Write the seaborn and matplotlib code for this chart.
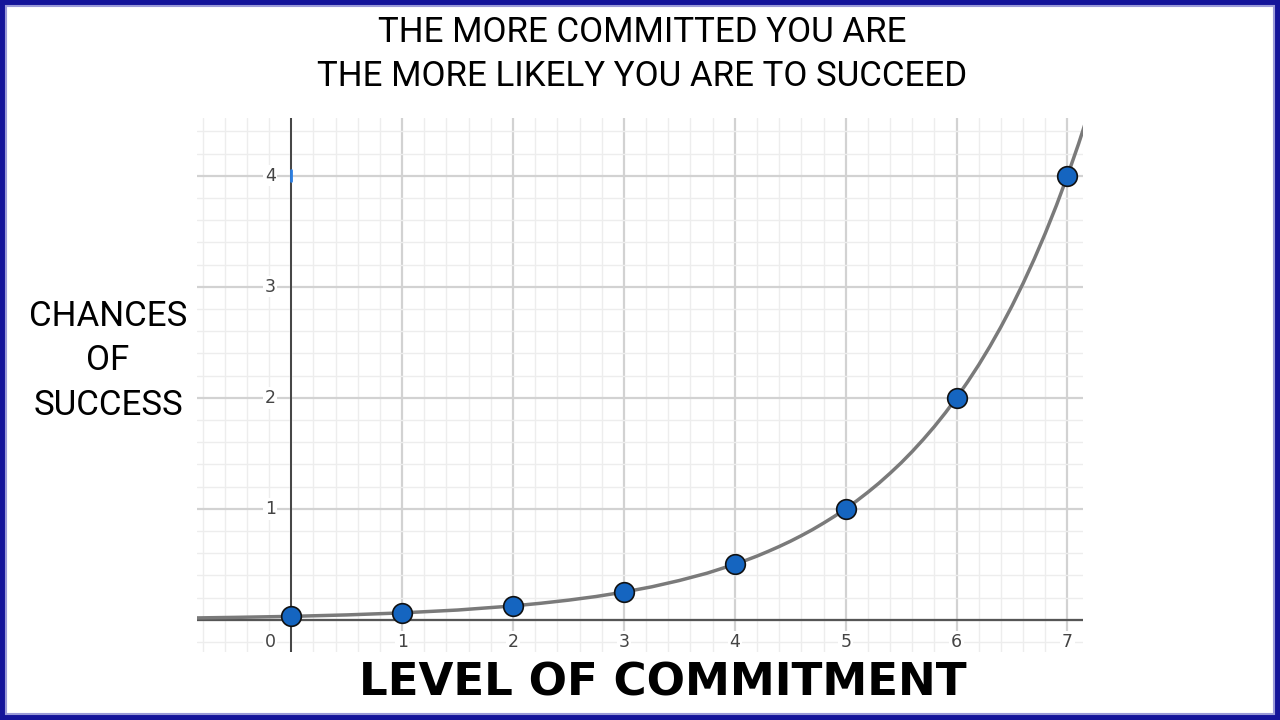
import matplotlib
matplotlib.use("Agg")
import matplotlib.pyplot as plt
import seaborn as sns
import numpy as np
import pandas as pd
from matplotlib.patches import Rectangle

# ---- data ----
level = [0, 1, 2, 3, 4, 5, 6, 7]
chance = [0.031, 0.0625, 0.125, 0.25, 0.5, 1.0, 2.0, 4.0]

curve_x = [-0.85, -0.5, 0, 0.5, 1, 1.5, 2, 2.25, 2.5, 2.75, 3, 3.25, 3.5, 3.75,
           4.0, 4.1, 4.2, 4.3, 4.4, 4.5, 4.6, 4.7, 4.8, 4.9,
           5.0, 5.1, 5.2, 5.3, 5.4, 5.5, 5.6, 5.7, 5.8, 5.9,
           6.0, 6.1, 6.2, 6.3, 6.4, 6.5, 6.6, 6.7, 6.8, 6.9,
           7.0, 7.1, 7.2]
curve_y = [0.017, 0.022, 0.031, 0.044, 0.0625, 0.088, 0.125, 0.149, 0.177, 0.210,
           0.25, 0.297, 0.354, 0.420,
           0.500, 0.536, 0.574, 0.616, 0.660, 0.707, 0.758, 0.812, 0.871, 0.933,
           1.000, 1.072, 1.149, 1.231, 1.320, 1.414, 1.516, 1.625, 1.741, 1.866,
           2.000, 2.144, 2.297, 2.462, 2.639, 2.828, 3.031, 3.249, 3.482, 3.732,
           4.000, 4.287, 4.595]

x_tick_labels = ["0", "1", "2", "3", "4", "5", "6", "7"]
y_tick_values = [1, 2, 3, 4]
y_tick_labels = ["1", "2", "3", "4"]

title_lines = ["THE MORE COMMITTED YOU ARE", "THE MORE LIKELY YOU ARE TO SUCCEED"]
x_label = "LEVEL OF COMMITMENT"
y_label = "CHANCES\nOF\nSUCCESS"

sns.set_theme(style="white")
plt.rcParams['font.family'] = ['DejaVu Sans']

fig = plt.figure(figsize=(12.8, 7.2), dpi=100)
fig.patch.set_facecolor("white")
ax = fig.add_axes([197 / 1280, 68 / 720, 886 / 1280, 534 / 720])

# grid
ax.set_xlim(-0.85, 7.14)
ax.set_ylim(-0.29, 4.52)
ax.set_xticks(np.arange(0, 8, 1))
ax.set_xticks(np.arange(-0.8, 7.2, 0.2), minor=True)
ax.set_yticks(np.arange(0, 5, 1))
ax.set_yticks(np.arange(-0.2, 4.6, 0.2), minor=True)
ax.grid(which="major", color="#d2d2d2", linewidth=1.6, zorder=0)
ax.grid(which="minor", color="#ededed", linewidth=1.0, zorder=0)
ax.tick_params(which="both", length=0, labelbottom=False, labelleft=False)
for s in ax.spines.values():
    s.set_visible(False)

# axes lines
ax.axhline(0, color="#555555", linewidth=1.6, zorder=2)
ax.axvline(0, color="#444444", linewidth=1.4, zorder=2)
ax.plot([0, 0], [3.95, 4.05], color="#2a7de1", linewidth=2, zorder=3)

# tick labels
lbl_kw = dict(fontsize=12.5, color="#444444", zorder=4,
              bbox=dict(boxstyle="square,pad=0.1", fc="white", ec="none"))
for i, t in enumerate(x_tick_labels):
    xx = level[i] if i > 0 else -0.19
    ax.text(xx, -0.2, t, ha="center", va="center", **lbl_kw)
for v, t in zip(y_tick_values, y_tick_labels):
    ax.text(-0.19, v, t, ha="center", va="center", **lbl_kw)

# curve and points
curve_df = pd.DataFrame({"x": curve_x, "y": curve_y})
sns.lineplot(data=curve_df, x="x", y="y", sort=False, estimator=None,
             color="#7a7a7a", linewidth=2.5, ax=ax, zorder=5)
pts = pd.DataFrame({"level": level, "chance": chance})
sns.scatterplot(data=pts, x="level", y="chance", s=200, color="#1565c0",
                edgecolor="#111111", linewidth=1.2, ax=ax, zorder=6, clip_on=False)
ax.set_xlabel("")
ax.set_ylabel("")

# texts (size fitted to the reference widths)
narrow = ["Roboto", "DejaVu Sans"]
t1 = fig.text(642 / 1280, 1 - 33 / 720, title_lines[0], ha="center", va="center",
              fontsize=24, family=narrow, color="black")
t2 = fig.text(642 / 1280, 1 - 76 / 720, title_lines[1], ha="center", va="center",
              fontsize=24, family=narrow, color="black")
yl = fig.text(108 / 1280, 1 - 361 / 720, y_label, ha="center", va="center",
              fontsize=24, family=narrow, linespacing=1.45, color="black")
xl = fig.text(663 / 1280, 1 - 683 / 720, x_label, ha="center", va="center",
              fontsize=32.5, fontweight="bold", family=["DejaVu Sans"], color="black")

renderer = fig.canvas.get_renderer()
w2 = t2.get_window_extent(renderer).width
size = 24 * 651 / w2
for t in (t1, t2, yl):
    t.set_fontsize(size)

# frame
fig.patches.append(Rectangle((0, 0), 1, 1, transform=fig.transFigure, fill=False,
                             edgecolor="#14149a", linewidth=8, zorder=10))
fig.patches.append(Rectangle((6 / 1280, 6 / 720), 1 - 12 / 1280, 1 - 12 / 720,
                             transform=fig.transFigure, fill=False,
                             edgecolor="#9a9ad8", linewidth=1.5, zorder=10))

fig.savefig("out.png", dpi=100)
